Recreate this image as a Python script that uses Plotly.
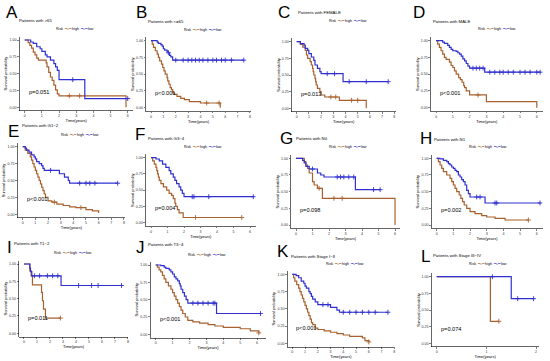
import plotly.graph_objects as go

W, H = 550, 361
HIGH_COLOR = "#A8612E"
LOW_COLOR = "#3030D0"

# ---------------- data (time in years, survival probability) ----------------
A_high_t = [0.2, 0.3, 0.4, 0.5, 0.6, 0.7, 0.8, 1.25, 1.3, 1.4, 1.5, 1.6, 1.7, 1.8, 1.9, 2.0, 5.9]
A_high_s = [0.96, 0.92, 0.88, 0.82, 0.78, 0.73, 0.70, 0.66, 0.60, 0.52, 0.45, 0.40, 0.33, 0.26, 0.20, 0.17, 0.0]
A_high_c = [2.6, 3.2]
A_low_t = [0.35, 0.5, 0.7, 0.9, 1.0, 1.2, 1.3, 1.5, 1.7, 1.8, 1.9, 2.0, 3.5]
A_low_s = [0.97, 0.95, 0.90, 0.87, 0.83, 0.78, 0.75, 0.70, 0.65, 0.60, 0.55, 0.41, 0.13]
A_low_c = [2.8, 6.0]

B_high_t = [0.1, 0.2, 0.35, 0.5, 0.6, 0.7, 0.85, 0.95, 1.05, 1.15, 1.3, 1.35, 1.45, 1.55, 1.65, 1.75, 1.9, 2.1, 2.4, 2.7, 3.1, 4.0, 5.6]
B_high_s = [0.95, 0.90, 0.85, 0.80, 0.75, 0.70, 0.65, 0.60, 0.55, 0.50, 0.45, 0.40, 0.35, 0.30, 0.27, 0.22, 0.20, 0.17, 0.14, 0.12, 0.09, 0.07, 0.0]
B_high_c = [4.5, 5.5]
B_low_t = [0.5, 0.6, 0.8, 0.9, 1.0, 1.1, 1.3, 1.4, 1.5, 1.6, 1.75]
B_low_s = [0.98, 0.96, 0.94, 0.92, 0.88, 0.86, 0.84, 0.82, 0.78, 0.76, 0.71]
B_low_c = [1.4, 2.0, 2.6, 3.0, 3.3, 3.6, 3.9, 4.2, 4.6, 5.0, 5.3, 5.7, 6.0, 6.5, 7.5]

C_high_t = [0.3, 0.5, 0.7, 0.8, 0.9, 1.1, 1.2, 1.3, 1.35, 1.4, 1.5, 1.55, 1.6, 1.7, 1.9, 2.0, 2.3, 3.5, 5.7]
C_high_s = [0.96, 0.92, 0.87, 0.80, 0.75, 0.70, 0.65, 0.60, 0.55, 0.50, 0.45, 0.40, 0.35, 0.30, 0.25, 0.20, 0.17, 0.12, 0.0]
C_high_c = [2.8, 3.2, 4.5, 5.0]
C_low_t = [0.3, 0.6, 0.7, 0.9, 1.0, 1.2, 1.4, 1.5, 1.7, 1.9, 2.0, 3.8]
C_low_s = [0.97, 0.95, 0.90, 0.87, 0.82, 0.77, 0.72, 0.65, 0.60, 0.55, 0.52, 0.40]
C_low_c = [2.5, 3.1, 4.3, 5.7, 7.5]

D_high_t = [0.1, 0.2, 0.3, 0.4, 0.5, 0.6, 0.8, 0.9, 1.0, 1.1, 1.2, 1.35, 1.45, 1.55, 1.65, 1.7, 1.8, 2.0, 3.0, 6.0]
D_high_s = [0.95, 0.90, 0.85, 0.80, 0.75, 0.72, 0.68, 0.63, 0.60, 0.55, 0.50, 0.45, 0.42, 0.38, 0.33, 0.30, 0.25, 0.19, 0.09, 0.0]
D_high_c = [2.5]
D_low_t = [0.4, 0.5, 0.7, 0.8, 0.9, 1.0, 1.2, 1.3, 1.4, 1.5, 1.6, 1.7, 1.8, 1.9, 2.0, 2.9]
D_low_s = [0.98, 0.96, 0.93, 0.90, 0.87, 0.85, 0.84, 0.82, 0.80, 0.77, 0.73, 0.70, 0.66, 0.62, 0.59, 0.53]
D_low_c = [2.2, 2.4, 2.6, 2.8, 3.2, 3.5, 3.8, 4.0, 4.3, 4.6, 5.0, 5.3, 5.6, 6.0, 6.2]

E_high_t = [0.2, 0.4, 0.6, 0.7, 0.8, 0.9, 1.0, 1.1, 1.2, 1.3, 1.4, 1.5, 1.6, 1.7, 1.8, 2.0, 2.3, 2.7, 3.2, 3.7, 4.2, 5.0, 5.5, 6.0]
E_high_s = [0.95, 0.90, 0.85, 0.80, 0.75, 0.70, 0.65, 0.60, 0.55, 0.50, 0.45, 0.40, 0.35, 0.30, 0.25, 0.20, 0.18, 0.15, 0.13, 0.11, 0.10, 0.07, 0.05, 0.02]
E_high_c = [2.5, 4.6]
E_low_t = [0.2, 0.3, 0.5, 0.7, 0.9, 1.0, 1.1, 1.3, 1.5, 1.6, 1.7, 2.9, 3.3, 3.6, 3.7]
E_low_s = [0.98, 0.95, 0.92, 0.88, 0.85, 0.82, 0.78, 0.75, 0.72, 0.68, 0.65, 0.60, 0.55, 0.50, 0.46]
E_low_c = [2.2, 4.5, 5.0, 5.3, 5.7, 7.5]

F_high_t = [0.1, 0.2, 0.3, 0.35, 0.4, 0.45, 0.5, 0.6, 0.75, 0.95, 1.1, 1.25, 1.35, 1.45, 1.5, 1.6, 1.7, 1.95]
F_high_s = [0.95, 0.90, 0.85, 0.80, 0.75, 0.70, 0.65, 0.60, 0.55, 0.50, 0.45, 0.42, 0.37, 0.30, 0.25, 0.20, 0.15, 0.08]
F_high_c = [2.7, 5.5]
F_low_t = [0.3, 0.5, 0.7, 0.9, 1.1, 1.2, 1.35, 1.45, 1.55, 1.7, 1.8, 1.9, 2.0]
F_low_s = [0.98, 0.95, 0.90, 0.85, 0.80, 0.75, 0.70, 0.65, 0.60, 0.55, 0.50, 0.45, 0.40]
F_low_c = [2.5, 2.6, 3.5, 6.2]

G_high_t = [0.5, 0.6, 0.7, 0.8, 1.0, 1.1, 1.3, 1.6, 6.0]
G_high_s = [0.95, 0.90, 0.85, 0.78, 0.65, 0.60, 0.55, 0.40, 0.0]
G_high_c = [1.4, 2.3, 2.8]
G_low_t = [0.4, 0.5, 0.6, 0.8, 1.3, 1.5, 1.7, 3.6]
G_low_s = [0.97, 0.93, 0.88, 0.84, 0.78, 0.75, 0.72, 0.53]
G_low_c = [1.0, 2.5, 2.7, 2.9, 3.2, 3.5, 4.7, 5.1]

H_high_t = [0.1, 0.2, 0.3, 0.4, 0.6, 0.8, 0.9, 1.0, 1.1, 1.2, 1.35, 1.45, 1.55, 1.65, 1.8, 2.0, 2.3, 2.7, 3.0, 3.5, 4.1]
H_high_s = [0.95, 0.90, 0.85, 0.80, 0.75, 0.70, 0.65, 0.60, 0.55, 0.50, 0.45, 0.40, 0.35, 0.30, 0.25, 0.20, 0.17, 0.14, 0.12, 0.10, 0.075]
H_high_c = [5.5]
H_low_t = [0.2, 0.4, 0.6, 0.7, 0.8, 0.9, 1.0, 1.1, 1.2, 1.3, 1.4, 1.5, 1.6, 1.7, 1.8, 1.9, 2.0, 2.9]
H_low_s = [0.99, 0.97, 0.95, 0.92, 0.90, 0.87, 0.85, 0.82, 0.80, 0.75, 0.72, 0.68, 0.65, 0.60, 0.52, 0.47, 0.42, 0.33]
H_low_c = [2.4, 2.6, 3.5, 3.6, 6.2]

I_high_t = [0.45, 0.55, 0.65, 1.35, 1.42, 1.5, 1.65]
I_high_s = [0.90, 0.83, 0.70, 0.59, 0.47, 0.35, 0.22]
I_high_c = [2.8]
I_low_t = [0.45, 0.5, 0.6, 2.85]
I_low_s = [0.94, 0.89, 0.83, 0.69]
I_low_c = [0.8, 1.2, 1.8, 2.2, 2.6, 4.2, 5.2, 5.7, 7.5]

J_high_t = [0.1, 0.2, 0.3, 0.4, 0.5, 0.6, 0.75, 0.9, 1.0, 1.1, 1.2, 1.3, 1.4, 1.5, 1.6, 1.75, 1.9, 2.2, 2.6, 3.1, 3.5, 4.0, 5.0, 5.6, 6.1]
J_high_s = [0.97, 0.93, 0.90, 0.85, 0.80, 0.75, 0.70, 0.65, 0.60, 0.55, 0.50, 0.45, 0.40, 0.35, 0.30, 0.25, 0.20, 0.18, 0.16, 0.14, 0.12, 0.10, 0.08, 0.05, 0.02]
J_high_c = [6.1]
J_low_t = [0.3, 0.5, 0.6, 0.8, 0.9, 1.0, 1.1, 1.2, 1.3, 1.4, 1.45, 1.5, 1.6, 1.7, 1.8, 1.9, 3.6]
J_low_s = [0.99, 0.97, 0.95, 0.93, 0.90, 0.87, 0.83, 0.80, 0.77, 0.73, 0.70, 0.65, 0.60, 0.55, 0.50, 0.45, 0.30]
J_low_c = [2.2, 2.5, 2.8, 3.1, 3.4, 3.5, 6.2]

K_high_t = [0.1, 0.2, 0.35, 0.5, 0.6, 0.7, 0.8, 0.9, 1.0, 1.1, 1.2, 1.3, 1.4, 1.5, 1.6, 1.8, 2.0, 2.5, 3.0, 3.5, 4.0, 4.5, 5.5, 5.7, 6.0]
K_high_s = [0.95, 0.90, 0.85, 0.80, 0.75, 0.70, 0.65, 0.60, 0.55, 0.50, 0.45, 0.40, 0.35, 0.30, 0.27, 0.22, 0.20, 0.18, 0.16, 0.14, 0.12, 0.10, 0.08, 0.04, 0.02]
K_high_c = [6.0]
K_low_t = [0.3, 0.5, 0.7, 0.9, 1.0, 1.1, 1.3, 1.4, 1.5, 1.6, 1.8, 2.0, 3.0, 3.5, 3.7]
K_low_s = [0.98, 0.95, 0.90, 0.87, 0.83, 0.80, 0.75, 0.72, 0.68, 0.64, 0.60, 0.56, 0.52, 0.48, 0.45]
K_low_c = [2.4, 2.8, 4.0, 4.5, 5.0, 5.5, 6.0, 6.5, 7.5]

L_high_t = [1.08]
L_high_s = [0.33]
L_high_c = [1.25]
L_low_t = [1.5]
L_low_s = [0.67]
L_low_c = [1.12, 1.63, 1.95]

LETTERS = ["A", "B", "C", "D", "E", "F", "G", "H", "I", "J", "K", "L"]
TITLES = ["Patients with >65", "Patients with <=65", "Patients with FEMALE", "Patients with MALE",
          "Patients with G1~2", "Patients with G3~4", "Patients with N0", "Patients with N1",
          "Patients with T1~2", "Patients with T3~4", "Patients with Stage I~II", "Patients with Stage III~IV"]
PVALUES = ["p=0.051", "p<0.001", "p=0.013", "p<0.001", "p<0.001", "p=0.004",
           "p=0.098", "p=0.002", "p=0.011", "p<0.001", "p<0.001", "p=0.074"]
X_TICKS = [list(range(0, 7)), list(range(0, 9)), list(range(0, 9)), list(range(0, 7)),
           list(range(0, 9)), list(range(0, 7)), list(range(0, 7)), list(range(0, 7)),
           list(range(0, 9)), list(range(0, 7)), list(range(0, 9)), list(range(0, 3))]
Y_TICKS = [0, 0.25, 0.5, 0.75, 1.0]
Y_TICK_TEXT = ["0.00", "0.25", "0.50", "0.75", "1.00"]

DATA = {
    "A": (A_high_t, A_high_s, A_high_c, A_low_t, A_low_s, A_low_c),
    "B": (B_high_t, B_high_s, B_high_c, B_low_t, B_low_s, B_low_c),
    "C": (C_high_t, C_high_s, C_high_c, C_low_t, C_low_s, C_low_c),
    "D": (D_high_t, D_high_s, D_high_c, D_low_t, D_low_s, D_low_c),
    "E": (E_high_t, E_high_s, E_high_c, E_low_t, E_low_s, E_low_c),
    "F": (F_high_t, F_high_s, F_high_c, F_low_t, F_low_s, F_low_c),
    "G": (G_high_t, G_high_s, G_high_c, G_low_t, G_low_s, G_low_c),
    "H": (H_high_t, H_high_s, H_high_c, H_low_t, H_low_s, H_low_c),
    "I": (I_high_t, I_high_s, I_high_c, I_low_t, I_low_s, I_low_c),
    "J": (J_high_t, J_high_s, J_high_c, J_low_t, J_low_s, J_low_c),
    "K": (K_high_t, K_high_s, K_high_c, K_low_t, K_low_s, K_low_c),
    "L": (L_high_t, L_high_s, L_high_c, L_low_t, L_low_s, L_low_c),
}

# ---------------- geometry (pixels) ----------------
GEOM = {
    "A": dict(x0=24.7, ppy=17.17, xr=(-0.3, 6.3), y1=40.0, y0=107.3),
    "B": dict(x0=151.0, ppy=12.37, xr=(-0.4, 8.1), y1=40.7, y0=107.7),
    "C": dict(x0=296.7, ppy=12.2, xr=(-0.4, 8.1), y1=41.7, y0=108.3),
    "D": dict(x0=436.0, ppy=16.8, xr=(-0.31, 6.35), y1=40.7, y0=107.7),
    "E": dict(x0=22.7, ppy=12.66, xr=(-0.4, 8.1), y1=146.7, y0=214.3),
    "F": dict(x0=151.0, ppy=16.5, xr=(-0.31, 6.35), y1=157.7, y0=222.7),
    "G": dict(x0=296.0, ppy=16.5, xr=(-0.3, 6.3), y1=158.3, y0=225.0),
    "H": dict(x0=436.7, ppy=16.67, xr=(-0.31, 6.35), y1=158.3, y0=225.0),
    "I": dict(x0=24.0, ppy=13.0, xr=(-0.375, 8.0), y1=264.0, y0=333.3),
    "J": dict(x0=155.7, ppy=16.9, xr=(-0.31, 6.5), y1=265.0, y0=334.3),
    "K": dict(x0=292.3, ppy=12.75, xr=(-0.375, 8.0), y1=274.3, y0=343.3),
    "L": dict(x0=436.7, ppy=49.7, xr=(-0.1, 2.05), y1=276.7, y0=343.3),
}
LABEL_POS = {
    "A": ((5, 13), (18, 20), (55, 29)),
    "B": ((135, 13), (147, 21), (183, 30)),
    "C": ((277, 12), (297, 12), (328, 21)),
    "D": ((412, 13), (432, 22), (477, 29)),
    "E": ((7, 131), (21, 125), (60, 135)),
    "F": ((134, 134), (147, 138), (183, 147)),
    "G": ((279, 138), (295, 138), (328, 147)),
    "H": ((419, 138), (433, 139), (468, 147)),
    "I": ((6, 247), (13, 243), (53, 253)),
    "J": ((135, 247), (147, 245), (187, 255)),
    "K": ((276, 251), (290, 256), (325, 264)),
    "L": ((420, 256), (432, 255), (468, 264)),
}

FONT = "Liberation Sans, Arial, sans-serif"


def surv_at(ts, ss, t):
    s = 1.0
    for ti, si in zip(ts, ss):
        if ti <= t:
            s = si
    return s


fig = go.Figure()
annotations = []
layout_axes = {}

for i, key in enumerate(LETTERS):
    n = i + 1
    xa = "x" if n == 1 else f"x{n}"
    ya = "y" if n == 1 else f"y{n}"
    g = GEOM[key]
    unit = g["y0"] - g["y1"]
    left = g["x0"] + g["xr"][0] * g["ppy"]
    right = g["x0"] + g["xr"][1] * g["ppy"]
    top = g["y1"] - 0.05 * unit
    bottom = g["y0"] + 0.05 * unit
    xdom = [left / W, right / W]
    ydom = [1 - bottom / H, 1 - top / H]

    ht, hs, hc, lt, ls, lc = DATA[key]
    for ts, ss, cs, col in ((ht, hs, hc, HIGH_COLOR), (lt, ls, lc, LOW_COLOR)):
        end = max([ts[-1]] + cs)
        xs = [0] + ts + [end]
        ys = [1.0] + ss + [ss[-1]]
        fig.add_trace(go.Scatter(x=xs, y=ys, mode="lines", line=dict(color=col, width=1.2, shape="hv"),
                                 xaxis=xa, yaxis=ya, showlegend=False, hoverinfo="skip"))
        fig.add_trace(go.Scatter(x=cs, y=[surv_at(ts, ss, c) for c in cs], mode="markers",
                                 marker=dict(symbol="cross-thin", size=3.5, line=dict(color=col, width=0.9)),
                                 xaxis=xa, yaxis=ya, showlegend=False, hoverinfo="skip"))

    axis_common = dict(showline=True, linecolor="black", linewidth=0.6, ticks="outside", ticklen=1.8,
                       tickwidth=0.5, tickcolor="black", showgrid=False, zeroline=False,
                       tickfont=dict(size=3.6, color="#333", family=FONT))
    layout_axes["xaxis" if n == 1 else f"xaxis{n}"] = dict(
        axis_common, domain=xdom, range=list(g["xr"]), anchor=ya, tickmode="array",
        tickvals=X_TICKS[i], ticktext=[str(v) for v in X_TICKS[i]],
        title=dict(text="Time(years)", font=dict(size=4, color="black", family=FONT), standoff=1))
    layout_axes["yaxis" if n == 1 else f"yaxis{n}"] = dict(
        axis_common, domain=ydom, range=[-0.05, 1.05], anchor=xa, tickmode="array",
        tickvals=Y_TICKS, ticktext=Y_TICK_TEXT,
        title=dict(text="Survival probability", font=dict(size=4, color="black", family=FONT), standoff=1))

    (lx, ly), (tx, ty), (gx, gy) = LABEL_POS[key]
    annotations.append(dict(xref="paper", yref="paper", x=lx / W, y=1 - ly / H, xanchor="left", yanchor="middle",
                            text=key, showarrow=False, borderpad=0,
                            font=dict(size=17, color="black", family=FONT)))
    annotations.append(dict(xref="paper", yref="paper", x=tx / W, y=1 - ty / H, xanchor="left", yanchor="middle",
                            text=TITLES[i], showarrow=False, borderpad=0,
                            font=dict(size=4.3, color="black", family=FONT)))
    leg = (f'Risk  <span style="color:{HIGH_COLOR}">━+━</span> high  '
           f'<span style="color:{LOW_COLOR}">━+━</span> low')
    annotations.append(dict(xref="paper", yref="paper", x=gx / W, y=1 - gy / H, xanchor="left", yanchor="middle",
                            text=leg, showarrow=False, borderpad=0,
                            font=dict(size=3.6, color="black", family=FONT)))
    annotations.append(dict(xref=xa, yref=ya, x=0.12 * (g["xr"][1] / 6.3) if key != "L" else 0.05, y=0.22,
                            xanchor="left", yanchor="middle", text=PVALUES[i], showarrow=False,
                            font=dict(size=5.6, color="black", family=FONT)))

fig.update_layout(width=W, height=H, margin=dict(l=0, r=0, t=0, b=0), plot_bgcolor="white",
                  paper_bgcolor="white", annotations=annotations, **layout_axes)
fig.write_html("out.html", config={"displayModeBar": False, "staticPlot": True},
               post_script="document.body.style.margin='0';document.body.style.padding='0';"
                           "document.documentElement.style.overflow='hidden';")
